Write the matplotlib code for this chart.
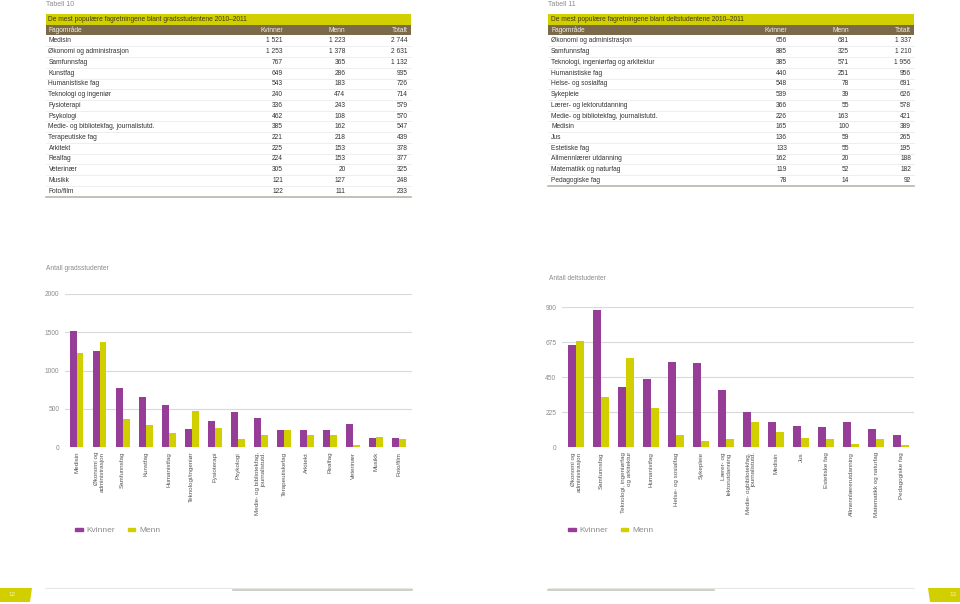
import numpy as np
import matplotlib
matplotlib.use("Agg")
import matplotlib.pyplot as plt
from matplotlib.patches import Rectangle, Polygon, Patch

plt.rcParams["font.family"] = ["Liberation Sans", "DejaVu Sans"]

PURPLE = "#963d97"
YELLOW = "#d2cf00"
BROWN = "#7a6a4b"
GRID = "#d9d9d9"
TXT = "#333333"
GRAY = "#8c8c8c"

W, H = 960, 604

# Tabell 10 – gradsstudenter
grad_fag = ["Medisin", "Økonomi og administrasjon", "Samfunnsfag", "Kunstfag",
            "Humanistiske fag", "Teknologi og ingeniør", "Fysioterapi", "Psykologi",
            "Medie- og bibliotekfag, journalistutd.", "Terapeutiske fag", "Arkitekt",
            "Realfag", "Veterinær", "Musikk", "Foto/film"]
grad_kvinner = [1521, 1253, 767, 649, 543, 240, 336, 462, 385, 221, 225, 224, 305, 121, 122]
grad_menn = [1223, 1378, 365, 286, 183, 474, 243, 108, 162, 218, 153, 153, 20, 127, 111]
grad_totalt = [2744, 2631, 1132, 935, 726, 714, 579, 570, 547, 439, 378, 377, 325, 248, 233]
grad_ticks = ["Medisin", "Økonomi og\nadministrasjon", "Samfunnsfag", "Kunstfag",
              "Humanistfag", "Teknologi/ingeniør", "Fysioterapi", "Psykologi",
              "Medie- og bibliotekfag,\njournalistutd.", "Terapeutiskefag", "Arkitekt",
              "Realfag", "Veterinær", "Musikk", "Foto/film"]

# Tabell 11 – deltstudenter
del_fag = ["Økonomi og administrasjon", "Samfunnsfag", "Teknologi, ingeniørfag og arkitektur",
           "Humanistiske fag", "Helse- og sosialfag", "Sykepleie", "Lærer- og lektorutdanning",
           "Medie- og bibliotekfag, journalistutd.", "Medisin", "Jus", "Estetiske fag",
           "Allmennlærer utdanning", "Matematikk og naturfag", "Pedagogiske fag"]
del_kvinner = [656, 885, 385, 440, 548, 539, 366, 226, 165, 136, 133, 162, 119, 78]
del_menn = [681, 325, 571, 251, 78, 39, 55, 163, 100, 59, 55, 20, 52, 14]
del_totalt = [1337, 1210, 1956, 956, 691, 626, 578, 421, 389, 265, 195, 188, 182, 92]
del_ticks = ["Økonomi og\nadministrasjon", "Samfunnsfag", "Teknologi, ingeniørfag\nog arkitektur",
             "Humanistfag", "Helse- og sosialfag", "Sykepleie", "Lærer- og\nlektorutdanning",
             "Medie- ogbibliotekfag,\njournalistutd.", "Medisin", "Jus", "Estetiske fag",
             "Allmennlærerutdanning", "Matematikk og naturfag", "Pedagogiske fag"]


def px(x0, y0, x1, y1):
    return [x0 / W, (H - y1) / H, (x1 - x0) / W, (y1 - y0) / H]


def fmt(v):
    return f"{v:,}".replace(",", " ")


fig = plt.figure(figsize=(9.6, 6.04), dpi=100)
page = fig.add_axes([0, 0, 1, 1])
page.set_xlim(0, W)
page.set_ylim(H, 0)
page.axis("off")


def draw_table(x0, x1, nr, title, fag, kv, me, tot, cols):
    page.text(x0, 5, nr, fontsize=5, color=GRAY, va="center")
    page.add_patch(Rectangle((x0, 14), x1 - x0, 10.5, color=YELLOW, lw=0))
    page.text(x0 + 3, 19.3, title, fontsize=4.8, color="#3f3a10", va="center")
    page.add_patch(Rectangle((x0, 24.5), x1 - x0, 10.8, color=BROWN, lw=0))
    page.text(x0 + 3, 30, "Fagområde", fontsize=4.8, color="#f2efe6", va="center")
    for cx, name in zip(cols, ["Kvinner", "Menn", "Totalt"]):
        page.text(cx, 30, name, fontsize=4.8, color="#f2efe6", va="center", ha="right")
    step = 10.72
    for i in range(len(fag)):
        y = 41 + i * step
        page.text(x0 + 3, y, fag[i], fontsize=4.8, color=TXT, va="center")
        for cx, v in zip(cols, [kv[i], me[i], tot[i]]):
            page.text(cx, y, fmt(v), fontsize=4.8, color=TXT, va="center", ha="right")
        if i < len(fag) - 1:
            page.plot([x0, x1], [y + step / 2] * 2, color="#e8e8e8", lw=0.5)
    yb = 41 + (len(fag) - 1) * step + 5.5
    page.plot([x0, x1], [yb, yb], color="#b9b6aa", lw=1.2)


draw_table(45.5, 411, "Tabell 10", "De mest populære fagretningene blant gradsstudentene 2010–2011",
           grad_fag, grad_kvinner, grad_menn, grad_totalt, [283, 345.5, 407.5])
draw_table(548, 914, "Tabell 11", "De mest populære fagretningene blant deltstudentene 2010–2011",
           del_fag, del_kvinner, del_menn, del_totalt, [787, 849, 911])


def draw_chart(rect, kv, me, ticks, ymax, step, width, xlim, ylabel, ylab_xy, leg_xy):
    ax = fig.add_axes(px(*rect))
    ax.patch.set_alpha(0)
    x = np.arange(len(kv))
    ax.bar(x - width / 2, kv, width, color=PURPLE, lw=0)
    ax.bar(x + width / 2, me, width, color=YELLOW, lw=0)
    ax.set_ylim(0, ymax)
    ax.set_xlim(*xlim)
    ax.set_yticks(np.arange(0, ymax + 1, step))
    ax.yaxis.grid(True, color=GRID, lw=0.8)
    ax.set_axisbelow(True)
    for s in ax.spines.values():
        s.set_visible(False)
    ax.tick_params(axis="y", length=0, labelsize=4.8, labelcolor=GRAY, pad=4)
    ax.tick_params(axis="x", length=0, pad=3.5)
    ax.set_xticks(x)
    ax.set_xticklabels(ticks, rotation=90, va="top", ha="center",
                       multialignment="right", fontsize=4.5, color="#555555")
    page.text(ylab_xy[0], ylab_xy[1], ylabel, fontsize=4.8, color=GRAY, va="center")
    handles = [Patch(color=PURPLE, label="Kvinner"), Patch(color=YELLOW, label="Menn")]
    fig.legend(handles=handles, loc="center left", ncol=2, frameon=False,
               bbox_to_anchor=(leg_xy[0] / W, 1 - leg_xy[1] / H),
               fontsize=6, labelcolor=GRAY, handlelength=0.9, handleheight=0.35,
               handletextpad=0.5, columnspacing=1.5, borderaxespad=0, borderpad=0)
    return ax


draw_chart((65, 294, 412, 447), grad_kvinner, grad_menn, grad_ticks, 2000, 500, 0.3,
           (-0.5, 14.56), "Antall gradsstudenter", (45.5, 268), (75, 531))
draw_chart((562, 307.3, 914, 447.3), del_kvinner, del_menn, del_ticks, 900, 225, 0.32,
           (-0.58, 13.52), "Antall deltstudenter", (549, 279), (568, 531))

# bunnlinjer og sidetall
page.plot([45, 412], [588, 588], color="#e2e2e2", lw=0.6)
page.plot([233, 412], [590, 590], color="#c8c6bc", lw=1.2)
page.plot([548, 914], [588, 588], color="#e2e2e2", lw=0.6)
page.plot([548, 714], [590, 590], color="#c8c6bc", lw=1.2)
page.add_patch(Polygon([(0, 588), (32, 588), (30, 602), (0, 602)], color=YELLOW, lw=0))
page.add_patch(Polygon([(928, 588), (960, 588), (960, 602), (930, 602)], color=YELLOW, lw=0))
page.text(8, 595, "12", fontsize=4.5, color="#f4f1c0", va="center")
page.text(949, 595, "13", fontsize=4.5, color="#f4f1c0", va="center")

fig.savefig("out.png", dpi=100)
